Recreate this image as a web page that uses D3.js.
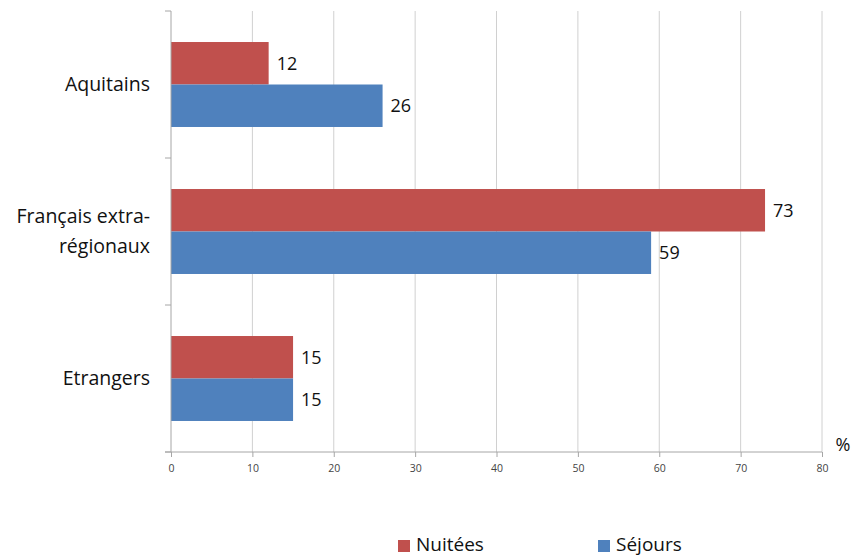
<!DOCTYPE html>
<html>
<head>
<meta charset="utf-8">
<script src="https://cdn.jsdelivr.net/npm/d3@7/dist/d3.min.js"></script>
<style>
  html, body { margin: 0; padding: 0; background: #fff; }
  svg { display: block; font-family: "Open Sans", "Noto Sans", sans-serif; }
</style>
</head>
<body>
<svg id="chart" width="852" height="558"></svg>
<script>
// Share of visitors by origin (%)
const categories = ["Aquitains", "Français extra-régionaux", "Etrangers"];
const categoryLines = [["Aquitains"], ["Français extra-", "régionaux"], ["Etrangers"]];
const seriesNames = ["Nuitées", "Séjours"];
const nuitees = [12, 73, 15];
const sejours = [26, 59, 15];
const xTicks = [0, 10, 20, 30, 40, 50, 60, 70, 80];
const colors = ["#C0504D", "#4F81BD"];

const svg = d3.select("#chart");
const margin = { left: 171, right: 30, top: 11, bottom: 106 };
const W = 852, H = 558;
const plotW = W - margin.left - margin.right;
const plotH = H - margin.top - margin.bottom;

const g = svg.append("g").attr("transform", `translate(${margin.left},${margin.top})`);

const x = d3.scaleLinear().domain([0, 80]).range([0, plotW]);
const y = d3.scaleBand().domain(categories).range([0, plotH]).paddingInner(0).paddingOuter(0);
const inner = d3.scaleBand().domain(seriesNames).range([0, y.bandwidth()]).paddingInner(0).paddingOuter(0.73);

// vertical gridlines
g.selectAll(".grid").data(xTicks.slice(1)).join("line")
  .attr("x1", d => x(d)).attr("x2", d => x(d))
  .attr("y1", 0).attr("y2", plotH)
  .attr("stroke", "#d0d0d0").attr("stroke-width", 1);

// bars
const rows = categories.map((c, i) => ({ cat: c, values: [nuitees[i], sejours[i]] }));
const grp = g.selectAll(".row").data(rows).join("g")
  .attr("transform", d => `translate(0,${y(d.cat)})`);

grp.selectAll("rect").data(d => d.values.map((v, j) => ({ name: seriesNames[j], v, j }))).join("rect")
  .attr("x", 0)
  .attr("y", d => inner(d.name))
  .attr("width", d => x(d.v))
  .attr("height", inner.bandwidth())
  .attr("fill", d => colors[d.j]);

grp.selectAll("text.val").data(d => d.values.map((v, j) => ({ name: seriesNames[j], v, j }))).join("text")
  .attr("class", "val")
  .attr("x", d => x(d.v) + 8)
  .attr("y", d => inner(d.name) + inner.bandwidth() / 2)
  .attr("dy", "0.35em")
  .attr("font-size", 18)
  .attr("fill", "#111")
  .text(d => d.v);

// x axis
const xAxis = g.append("g").attr("transform", `translate(0,${plotH})`)
  .call(d3.axisBottom(x).tickValues(xTicks).tickSize(5).tickPadding(8));
xAxis.select(".domain").attr("stroke", "#a6a6a6").attr("d", `M-6,0H${plotW}`);
xAxis.selectAll(".tick line").attr("stroke", "#a6a6a6");
xAxis.selectAll(".tick text").attr("font-size", 10.5).attr("fill", "#444")
  .attr("font-family", "'Open Sans', sans-serif");

// y axis line with ticks at category boundaries
g.append("line").attr("x1", 0).attr("x2", 0).attr("y1", 0).attr("y2", plotH)
  .attr("stroke", "#a6a6a6");
const bounds = categories.map(c => y(c)).concat([plotH]);
g.selectAll(".ytick").data(bounds).join("line")
  .attr("x1", -6).attr("x2", 0)
  .attr("y1", d => d).attr("y2", d => d)
  .attr("stroke", "#a6a6a6");

// category labels
categories.forEach((c, i) => {
  const lines = categoryLines[i];
  const cy = y(c) + y.bandwidth() / 2;
  const lh = 30;
  const t = g.append("text")
    .attr("text-anchor", "end")
    .attr("font-size", 19.5)
    .attr("fill", "#111");
  lines.forEach((l, k) => {
    t.append("tspan")
      .attr("x", -21)
      .attr("y", cy + (k - (lines.length - 1) / 2) * lh)
      .attr("dy", "0.35em")
      .text(l);
  });
});

// unit label
svg.append("text")
  .attr("x", 843).attr("y", 451)
  .attr("text-anchor", "middle")
  .attr("font-size", 18).attr("fill", "#111")
  .text("%");

// legend
const legendX = [398, 598];
seriesNames.forEach((s, i) => {
  svg.append("rect").attr("x", legendX[i]).attr("y", 540).attr("width", 12).attr("height", 12)
    .attr("fill", colors[i]);
  svg.append("text").attr("x", legendX[i] + 18).attr("y", 544).attr("dy", "0.35em")
    .attr("font-size", 19).attr("fill", "#111").text(s);
});
</script>
</body>
</html>
